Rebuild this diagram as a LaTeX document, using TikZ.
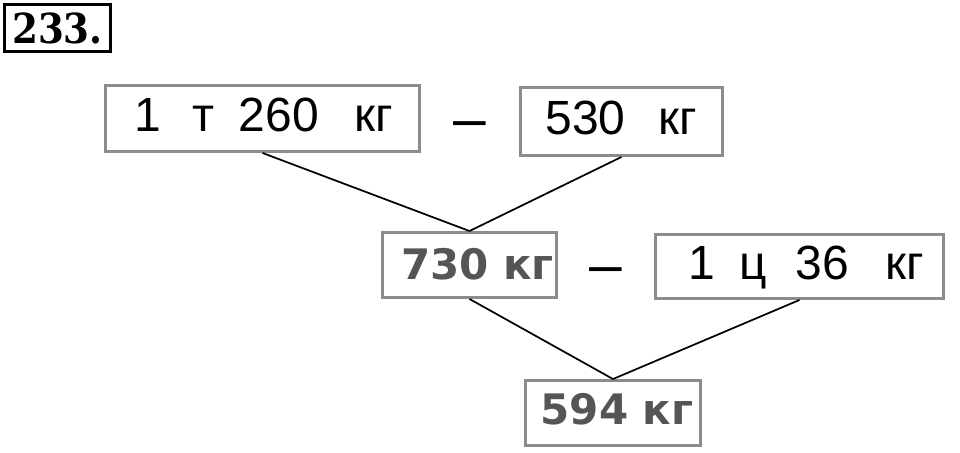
\documentclass[tikz,border=0pt]{standalone}
\usepackage{fontspec}
\newfontfamily\sansf{Liberation Sans}
\newfontfamily\boldsf{DejaVu Sans}
\newfontfamily\headf{DejaVu Serif}[FakeStretch=0.9]
\definecolor{txtgray}{HTML}{555555}
\definecolor{boxgray}{HTML}{8C8C8C}
\begin{document}
\begin{tikzpicture}[x=0.75pt,y=-0.75pt,
  box/.style={draw=boxgray, line width=2.2pt, inner sep=0pt, fill=white},
  reg/.style={font=\sansf\fontsize{36}{42}\selectfont, text=black, text height=25.8pt, text depth=6.75pt},
  bld/.style={font=\boldsf\bfseries\fontsize{31.5}{37}\selectfont, text=txtgray, text height=22.9pt},
  conn/.style={line width=1.3pt, black},
  dashsign/.style={font=\sansf\fontsize{44}{50}\selectfont, inner sep=0pt}]
\useasboundingbox (0,0) rectangle (960,453);
\node[draw=black, line width=2.4pt, minimum width=79.5pt, minimum height=35.25pt, inner sep=0pt,
      font=\headf\bfseries\fontsize{31}{36}\selectfont] (num) at (57.5,28) {233.};
\node[box, reg, minimum width=235.5pt, minimum height=49.5pt] (b1) at (262.5,118.5)
  {\hspace*{2pt}1\hspace{24pt}т\hspace{18pt}260\hspace{27pt}кг};
\node[dashsign] (d1) at (469.5,130) {–};
\node[box, reg, minimum width=151.5pt, minimum height=51pt] (b2) at (621.5,121.5)
  {530\hspace{25pt}кг};
\node[box, bld, text depth=1.5pt, minimum width=130.5pt, minimum height=48.75pt] (b3) at (469.5,265)
  {\hspace*{12pt}730 кг};
\node[dashsign] (d2) at (605.5,276) {–};
\node[box, reg, minimum width=216pt, minimum height=48pt] (b4) at (799.5,266.5)
  {\hspace*{10pt}1\hspace{18pt}ц\hspace{22pt}36\hspace{27pt}кг};
\node[box, bld, text depth=6pt, minimum width=131.25pt, minimum height=48.75pt] (b5) at (613,413)
  {\hspace*{6pt}594 кг};
\draw[conn] (b1.south) -- (b3.north);
\draw[conn] (b2.south) -- (b3.north);
\draw[conn] (b3.south) -- (b5.north);
\draw[conn] (b4.south) -- (b5.north);
\end{tikzpicture}
\end{document}
